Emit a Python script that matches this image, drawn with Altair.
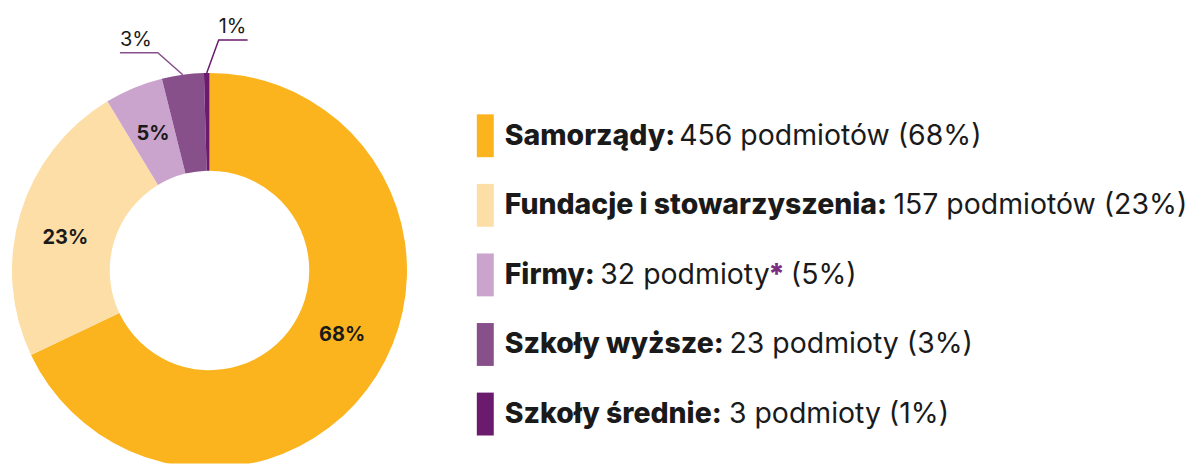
import math
import altair as alt
import pandas as pd

# ---------------- data ----------------
kategorie = ["Samorządy", "Fundacje i stowarzyszenia", "Firmy", "Szkoły wyższe", "Szkoły średnie"]
liczby = [456, 157, 32, 23, 3]
procenty = [68, 23, 5, 3, 1]
jednostki = ["podmiotów", "podmiotów", "podmioty", "podmioty", "podmioty"]
przypisy = ["", "", "*", "", ""]
etykieta_wewnatrz = [True, True, True, False, False]

# ---------------- style ----------------
kolory = ["#FBB41E", "#FDDEA6", "#CBA4CE", "#87508B", "#6A1B6E"]
FONT = "Inter"
TXT = "#1a1a1a"
ACCENT = "#7B2D80"
PIE_W, PIE_H = 420, 456
CX, CY = 202, 262.5
R_OUT, R_IN, R_LAB = 198, 100, 148
LAB_NUDGE = [-6.3, -4.2, 0, 0, 0]   # degrees, label placement tweak
GAP = 50
LEG_W, LEG_H = 720, 428
LEG_FS = 28.5
BOLD_W = 800
TX0 = 28
# outside label leader style: (elbow dx, elbow dy, horizontal length)
leader_style = {"Szkoły wyższe": (-25, -22, -38), "Szkoły średnie": (12, -33, 29)}

# approximate advance widths (em) for text placement
REG = {" ": 0.27, "1": 0.44, "(": 0.34, ")": 0.34, "%": 0.80, "*": 0.5,
       "p": 0.59, "o": 0.58, "d": 0.59, "m": 0.86, "i": 0.23, "t": 0.35,
       "w": 0.80, "ó": 0.58, "y": 0.52}
REG_SCALE = 1.02
BOLD = {"S": 0.67, "F": 0.60, "a": 0.57, "m": 0.91, "o": 0.62, "r": 0.41, "z": 0.55,
        "ą": 0.57, "d": 0.63, "y": 0.57, ":": 0.29, "u": 0.62, "n": 0.62, "c": 0.57,
        "j": 0.28, "e": 0.59, "i": 0.27, " ": 0.26, "s": 0.55, "t": 0.39, "w": 0.87,
        "k": 0.59, "ł": 0.31, "ż": 0.55, "ś": 0.55, "*": 0.52}
BOLD_SCALE = 1.012


def tw(s, table, size, k=1.0):
    return sum(table.get(c, 0.61) for c in s) * size * k


# ---------------- pie ----------------
pie_df = pd.DataFrame({
    "kategoria": kategorie,
    "liczba": liczby,
    "idx": list(range(len(kategorie))),
})

color = alt.Color("kategoria:N", scale=alt.Scale(domain=kategorie, range=kolory), legend=None)
theta = alt.Theta("liczba:Q", stack=True)
order = alt.Order("idx:Q")

arcs = alt.Chart(pie_df).mark_arc(outerRadius=R_OUT, innerRadius=R_IN, clip=True).encode(
    theta=theta, color=color, order=order, x=alt.value(CX), y=alt.value(CY))

total = sum(liczby)
cum = 0
lines, labs, ins = [], [], []
for k, v, p, w, nd in zip(kategorie, liczby, procenty, etykieta_wewnatrz, LAB_NUDGE):
    mid = (cum + v / 2) / total * 2 * math.pi
    cum += v
    if w:
        a = mid + math.radians(nd)
        ins.append({"kategoria": k, "tx": CX + R_LAB * math.sin(a),
                    "ty": CY - R_LAB * math.cos(a), "t": f"{p}%"})
        continue
    ax, ay = CX + R_OUT * math.sin(mid), CY - R_OUT * math.cos(mid)
    edx, edy, hl = leader_style[k]
    ex, ey = ax + edx, ay + edy
    fx = ex + hl
    for i, (px, py) in enumerate([(ax, ay), (ex, ey), (fx, ey)]):
        lines.append({"kategoria": k, "pt": i, "lx": px, "ly": py})
    labs.append({"kategoria": k, "tx": min(ex, fx), "ty": ey - 7, "t": f"{p}%"})

xs = alt.Scale(domain=[0, PIE_W], nice=False, zero=False)
ys = alt.Scale(domain=[0, PIE_H], nice=False, zero=False, reverse=True)

inner = alt.Chart(pd.DataFrame(ins)).mark_text(font=FONT, fontWeight="bold",
                                               fontSize=20, color=TXT).encode(
    x=alt.X("tx:Q", scale=xs, axis=None), y=alt.Y("ty:Q", scale=ys, axis=None), text="t:N")

leaders = alt.Chart(pd.DataFrame(lines)).mark_line(strokeWidth=1.5).encode(
    x=alt.X("lx:Q", scale=xs, axis=None), y=alt.Y("ly:Q", scale=ys, axis=None),
    detail="kategoria:N", order="pt:Q", color=color)

outer = alt.Chart(pd.DataFrame(labs)).mark_text(align="left", baseline="alphabetic",
                                                font=FONT, fontSize=20, color=TXT).encode(
    x=alt.X("tx:Q", scale=xs, axis=None), y=alt.Y("ty:Q", scale=ys, axis=None), text="t:N")

pie = alt.layer(arcs, inner, leaders, outer).properties(width=PIE_W, height=PIE_H)

# ---------------- legend ----------------
rows = []
for k, n, j, z, p in zip(kategorie, liczby, jednostki, przypisy, procenty):
    lb = k + ":"
    op = f"{n} {j}" if z else f"{n} {j} ({p}%)"
    pc = f"({p}%)" if z else ""
    xo = TX0 + tw(lb, BOLD, LEG_FS, BOLD_SCALE) + tw(" ", REG, LEG_FS, REG_SCALE)
    xz = xo + tw(op, REG, LEG_FS, REG_SCALE)
    xp = xz + tw(z, BOLD, LEG_FS) + tw(" ", REG, LEG_FS, REG_SCALE)
    rows.append({"kategoria": k, "lb": lb, "op": op, "z": z, "pc": pc,
                 "xb": TX0, "xo": xo, "xz": xz, "xp": xp})
leg_df = pd.DataFrame(rows)

ly = alt.Y("kategoria:N", sort=kategorie, axis=None,
           scale=alt.Scale(type="band", paddingInner=0.3835, paddingOuter=0.76, align=1))
lxs = alt.Scale(domain=[0, LEG_W], nice=False, zero=False)

sw = alt.Chart(leg_df).mark_rect().encode(y=ly, x=alt.value(0), x2=alt.value(17), color=color)


def seg(field, xfield, weight, col):
    return alt.Chart(leg_df).mark_text(align="left", baseline="middle", font=FONT,
                                       fontSize=LEG_FS, fontWeight=weight, color=col).encode(
        y=ly, x=alt.X(f"{xfield}:Q", scale=lxs, axis=None), text=f"{field}:N")


legend = alt.layer(
    sw,
    seg("lb", "xb", BOLD_W, TXT),
    seg("op", "xo", "normal", TXT),
    seg("z", "xz", BOLD_W, ACCENT),
    seg("pc", "xp", "normal", TXT),
).properties(width=LEG_W, height=LEG_H)

chart = alt.hconcat(pie, legend, spacing=GAP).properties(
    padding=0
).configure_view(stroke=None)

chart.save("out.html", embed_options={"renderer": "svg", "actions": False})
